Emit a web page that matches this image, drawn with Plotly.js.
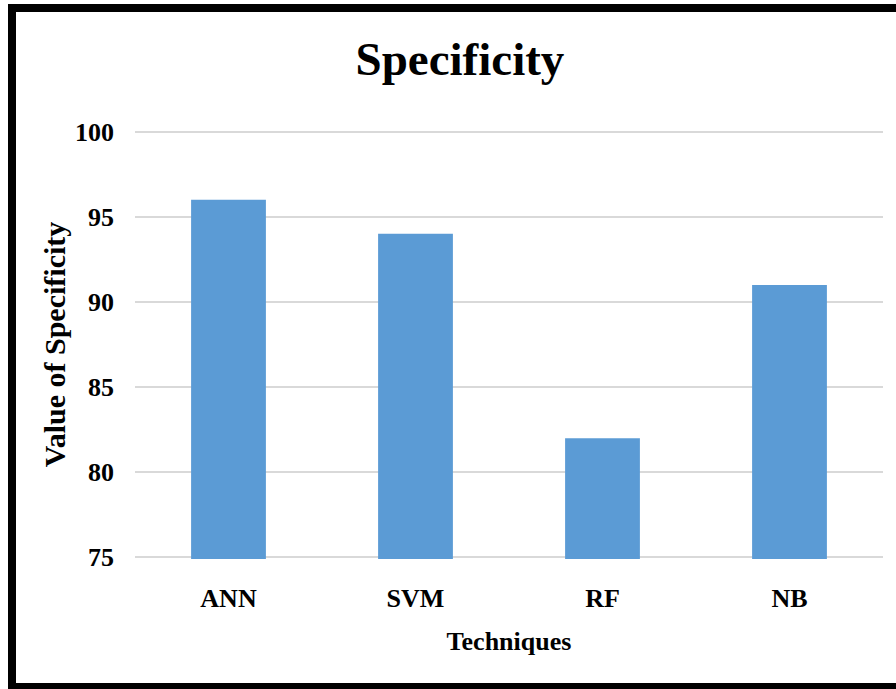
<!DOCTYPE html>
<html>
<head>
<meta charset="utf-8">
<script src="https://cdn.plot.ly/plotly-3.0.1.min.js"></script>
<style>
  html, body { margin: 0; padding: 0; background: #fff; }
  #chart {
    position: absolute; left: 8px; top: 4px;
    width: 880px; height: 671px;
    border-left: 8px solid #000; border-top: 8px solid #000; border-bottom: 6px solid #000;
  }
</style>
</head>
<body>
<div id="chart"></div>
<script>
const techniques = ["ANN", "SVM", "RF", "NB"];
const specificity = [96, 94, 82, 91];
const yTicks = [75, 80, 85, 90, 95, 100];

const fontFam = "'Liberation Serif', 'Times New Roman', serif";

Plotly.newPlot("chart", [{
  type: "bar",
  x: techniques,
  y: specificity,
  marker: { color: "#5B9BD5", line: { width: 0 } },
  hoverinfo: "x+y"
}], {
  width: 880, height: 671,
  margin: { l: 119, r: 13, t: 118, b: 124 },
  paper_bgcolor: "#fff",
  plot_bgcolor: "#fff",
  bargap: 0.6,
  showlegend: false,
  font: { family: fontFam, color: "#000" },
  title: {
    text: "<b>Specificity</b>",
    font: { family: fontFam, size: 47, color: "#000" },
    xref: "container", x: 0.5045, xanchor: "center",
    yref: "container", y: 0.931, yanchor: "middle"
  },
  xaxis: {
    type: "category",
    tickfont: { family: fontFam, size: 26, color: "#000", weight: "bold" },
    ticklabelstandoff: 21,
    showgrid: false,
    showline: false,
    ticks: "",
    title: { text: "<b>Techniques</b>", font: { family: fontFam, size: 26, color: "#000" }, standoff: 19 }
  },
  yaxis: {
    range: [74.9, 100.1],
    tickvals: yTicks,
    ticktext: yTicks.map(String),
    tickfont: { family: fontFam, size: 26, color: "#000", weight: "bold" },
    ticklabelstandoff: 20,
    showgrid: true,
    gridcolor: "#d9d9d9",
    gridwidth: 2,
    zeroline: false,
    showline: false,
    ticks: "",
    title: { text: "<b>Value of Specificity</b>", font: { family: fontFam, size: 30, color: "#000" }, standoff: 0 }
  }
}, { displayModeBar: false });
</script>
</body>
</html>
